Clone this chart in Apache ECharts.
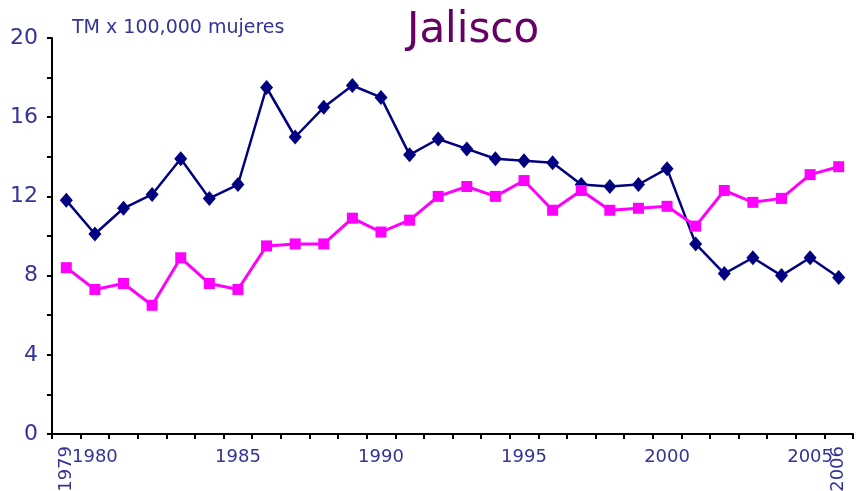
<!DOCTYPE html>
<html>
<head>
<meta charset="utf-8">
<script src="https://cdn.jsdelivr.net/npm/echarts@6/dist/echarts.min.js"></script>
<style>
  html, body { margin: 0; padding: 0; background: #fff; }
  #chart { width: 868px; height: 491px; }
</style>
</head>
<body>
<div id="chart"></div>
<script>
// años 1979 - 2006
var years = ['1979', '1980', '1981', '1982', '1983', '1984', '1985', '1986', '1987', '1988',
  '1989', '1990', '1991', '1992', '1993', '1994', '1995', '1996', '1997', '1998',
  '1999', '2000', '2001', '2002', '2003', '2004', '2005', '2006'];

// serie azul (rombos)
var serieAzul = [11.8, 10.1, 11.4, 12.1, 13.9, 11.9, 12.6, 17.5, 15.0, 16.5,
  17.6, 17.0, 14.1, 14.9, 14.4, 13.9, 13.8, 13.7, 12.6, 12.5,
  12.6, 13.4, 9.6, 8.1, 8.9, 8.0, 8.9, 7.9];

// serie rosa (cuadros)
var serieRosa = [8.4, 7.3, 7.6, 6.5, 8.9, 7.6, 7.3, 9.5, 9.6, 9.6,
  10.9, 10.2, 10.8, 12.0, 12.5, 12.0, 12.8, 11.3, 12.3, 11.3,
  11.4, 11.5, 10.5, 12.3, 11.7, 11.9, 13.1, 13.5];

var etiquetasX = ['1980', '1985', '1990', '1995', '2000', '2005'];
var etiquetasGiradas = ['1979', '2006'];

var fuente = 'DejaVu Sans';
var azulTexto = '#333399';

var chart = echarts.init(document.getElementById('chart'));

var option = {
  animation: false,
  title: [
    {
      text: 'Jalisco',
      left: 402,
      top: 5,
      textStyle: { fontFamily: fuente, fontSize: 42, fontWeight: 'normal', color: '#660066' }
    },
    {
      text: 'TM x 100,000 mujeres',
      left: 67,
      top: 14,
      textStyle: { fontFamily: fuente, fontSize: 19, fontWeight: 'normal', color: azulTexto }
    }
  ],
  grid: {
    left: 52,
    right: 15,
    top: 38,
    bottom: 57,
    outerBoundsMode: 'none'
  },
  xAxis: [
    {
      type: 'category',
      boundaryGap: true,
      data: years,
      axisLine: { lineStyle: { color: '#000', width: 2 } },
      axisTick: { show: true, interval: 0, length: 5, lineStyle: { color: '#000', width: 2 } },
      axisLabel: {
        interval: function (i, v) { return etiquetasX.indexOf(v) >= 0; },
        margin: 14,
        fontFamily: fuente,
        fontSize: 18,
        color: azulTexto
      }
    },
    {
      type: 'category',
      position: 'bottom',
      boundaryGap: true,
      data: years,
      axisLine: { show: false },
      axisTick: { show: false },
      axisLabel: {
        interval: function (i, v) { return etiquetasGiradas.indexOf(v) >= 0; },
        rotate: 90,
        margin: 12,
        fontFamily: fuente,
        fontSize: 18,
        color: azulTexto
      }
    }
  ],
  yAxis: {
    type: 'value',
    min: 0,
    max: 20,
    interval: 2,
    splitLine: { show: false },
    axisLine: { show: true, lineStyle: { color: '#000', width: 2 } },
    axisTick: { show: true, length: 5, lineStyle: { color: '#000', width: 2 } },
    axisLabel: {
      formatter: function (v) { return v % 4 === 0 ? v : ''; },
      margin: 14,
      fontFamily: fuente,
      fontSize: 22,
      color: azulTexto
    }
  },
  series: [
    {
      name: 'azul',
      type: 'line',
      data: serieAzul,
      symbol: 'diamond',
      symbolSize: [13, 15],
      lineStyle: { color: '#000080', width: 2.5 },
      itemStyle: { color: '#000080' },
      z: 3
    },
    {
      name: 'rosa',
      type: 'line',
      data: serieRosa,
      symbol: 'rect',
      symbolSize: 11,
      lineStyle: { color: '#ff00ff', width: 3 },
      itemStyle: { color: '#ff00ff' },
      z: 4
    }
  ]
};

chart.setOption(option);
</script>
</body>
</html>
